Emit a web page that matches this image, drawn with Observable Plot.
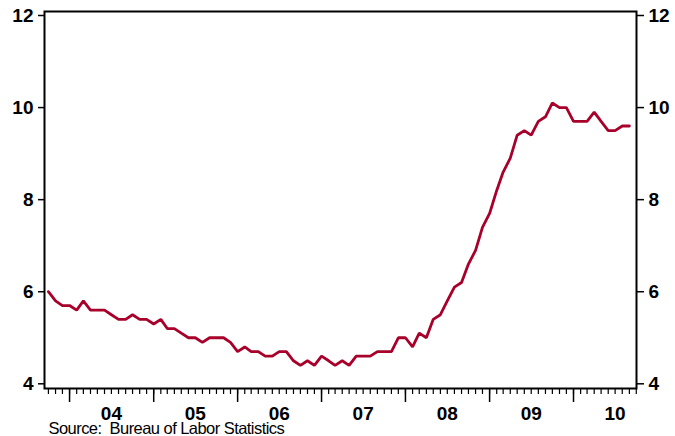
<!DOCTYPE html>
<html>
<head>
<meta charset="utf-8">
<script src="https://cdn.jsdelivr.net/npm/d3@7"></script>
<script src="https://cdn.jsdelivr.net/npm/@observablehq/plot@0.6"></script>
<style>
  html, body { margin: 0; padding: 0; background: #fff; }
</style>
</head>
<body>
<div id="chart"></div>
<script>
// Unemployment rate, monthly, Oct 2003 – Sep 2010 (%)
const startYear = 2003;
const startMonth = 10;
const rate = [
  6.0, 5.8, 5.7,                                              // 2003 Oct–Dec
  5.7, 5.6, 5.8, 5.6, 5.6, 5.6, 5.5, 5.4, 5.4, 5.5, 5.4, 5.4, // 2004
  5.3, 5.4, 5.2, 5.2, 5.1, 5.0, 5.0, 4.9, 5.0, 5.0, 5.0, 4.9, // 2005
  4.7, 4.8, 4.7, 4.7, 4.6, 4.6, 4.7, 4.7, 4.5, 4.4, 4.5, 4.4, // 2006
  4.6, 4.5, 4.4, 4.5, 4.4, 4.6, 4.6, 4.6, 4.7, 4.7, 4.7, 5.0, // 2007
  5.0, 4.8, 5.1, 5.0, 5.4, 5.5, 5.8, 6.1, 6.2, 6.6, 6.9, 7.4, // 2008
  7.7, 8.2, 8.6, 8.9, 9.4, 9.5, 9.4, 9.7, 9.8, 10.1, 10.0, 10.0, // 2009
  9.7, 9.7, 9.7, 9.9, 9.7, 9.5, 9.5, 9.6, 9.6                 // 2010 Jan–Sep
];
const yTicks = [4, 6, 8, 10, 12];
const yearLabels = [2004, 2005, 2006, 2007, 2008, 2009, 2010];
const sourceText = "Source:\u00a0 Bureau of Labor Statistics";

const data = rate.map((r, i) => ({
  date: new Date(Date.UTC(startYear, startMonth - 1 + i, 1)),
  rate: r
}));

const xDomain = [new Date(Date.UTC(2003, 8, 14)), new Date(Date.UTC(2010, 9, 2))];
const monthTicks = d3.utcMonth.range(new Date(Date.UTC(2003, 9, 1)), new Date(Date.UTC(2010, 9, 2)));
const yearTicks = yearLabels.map(y => new Date(Date.UTC(y, 0, 1)));
const labelTicks = yearLabels.map(y => new Date(Date.UTC(y, 6, 1)));

const lineColor = "#a8002a";

const chart = Plot.plot({
  width: 675,
  height: 436,
  marginLeft: 44,
  marginRight: 39,
  marginTop: 11,
  marginBottom: 48,
  style: {fontFamily: "'Liberation Sans', Arial, sans-serif", fontSize: "19px", fontWeight: "bold", color: "#000", background: "#fff"},
  x: {type: "utc", domain: xDomain},
  y: {domain: [3.898, 12.087]},
  marks: [
    Plot.axisY({anchor: "left", ticks: yTicks, tickSize: 6, tickPadding: 5, label: null, fontSize: 19, strokeWidth: 1.5}),
    Plot.axisY({anchor: "right", ticks: yTicks, tickSize: 7, tickPadding: 5, label: null, fontSize: 19, strokeWidth: 1.5}),
    Plot.axisX({ticks: monthTicks, tickSize: 6, tickFormat: () => "", label: null, strokeWidth: 1.2}),
    Plot.axisX({ticks: yearTicks, tickSize: 14, tickFormat: () => "", label: null, strokeWidth: 1.5}),
    Plot.axisX({ticks: labelTicks, tickSize: 0, tickPadding: 18, tickFormat: d3.utcFormat("%y"), label: null, fontSize: 19}),
    Plot.line(data, {x: "date", y: "rate", stroke: lineColor, strokeWidth: 2.8, strokeLinejoin: "miter"}),
    Plot.frame({stroke: "#000", strokeWidth: 2}),
    Plot.text([sourceText], {frameAnchor: "bottom-left", dx: 4, dy: 40, textAnchor: "start", lineAnchor: "middle", fontSize: 16.5, fontWeight: "normal", fill: "#000"})
  ]
});

document.getElementById("chart").appendChild(chart);
d3.select(chart).selectAll("text")
  .filter(function() { return this.textContent === sourceText; })
  .attr("letter-spacing", "-0.55");
</script>
</body>
</html>
